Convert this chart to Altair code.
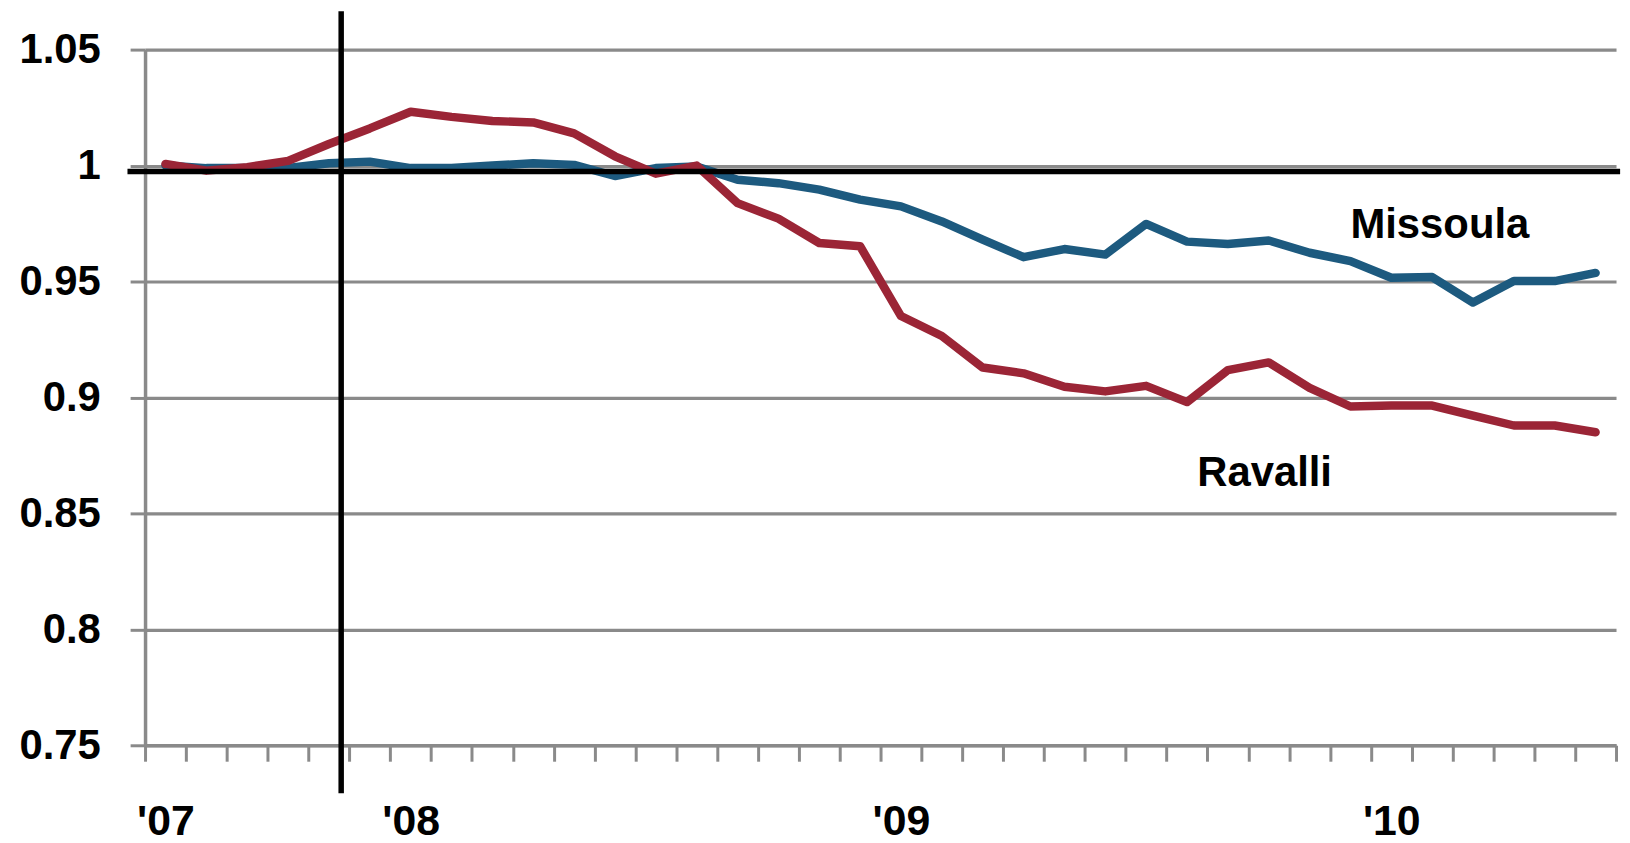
import altair as alt
import pandas as pd

# Monthly index values, Jul 2007 .. Jun 2010 (36 months)
months = pd.date_range("2007-07-01", periods=36, freq="MS").strftime("%Y-%m").tolist()
missoula = [1.0, 0.9989, 0.9989, 0.999, 1.001, 1.0017, 0.9989, 0.999, 1.0, 1.001,
            1.0003, 0.9955, 0.9989, 0.9996, 0.9939, 0.9924, 0.9896, 0.9853, 0.9824, 0.9759,
            0.9681, 0.9605, 0.964, 0.9616, 0.9748, 0.9672, 0.9662, 0.9677, 0.9624, 0.9588,
            0.9516, 0.9519, 0.9409, 0.9502, 0.9502, 0.9537]
ravalli = [1.0007, 0.9978, 0.9993, 1.002, 1.0093, 1.016, 1.0232, 1.021, 1.0192, 1.0186,
           1.0139, 1.004, 0.9965, 1.0, 0.9838, 0.9771, 0.9666, 0.9652, 0.9351, 0.9265,
           0.9129, 0.9104, 0.9046, 0.9026, 0.905, 0.898, 0.9118, 0.9151, 0.9041, 0.8961,
           0.8965, 0.8965, 0.8922, 0.8879, 0.8879, 0.885]

y_ticks = [0.75, 0.8, 0.85, 0.9, 0.95, 1.0, 1.05]
x_label_text = ["'07", "'08", "'09", "'10"]
x_label_month = [0, 6, 18, 30]          # month index where each year label sits

series_names = ["Missoula", "Ravalli"]
series_colors = ["#1d5a7f", "#9b2536"]
label_x = [29.5, 25.75]
label_y = [0.9686, 0.8617]

# annotation lines
recession_x = [4.8]
recession_y = [0.7293, 1.0665]
base_y = [0.9974]
base_x = [-0.43, 36.1]

GRAY = "#8a8a8a"
FONT = "Liberation Sans"

df = pd.DataFrame({
    "month": months * 2,
    "pos": [i + 0.5 for i in range(36)] * 2,
    "value": missoula + ravalli,
    "series": ["Missoula"] * 36 + ["Ravalli"] * 36,
})

expr = " : ".join(
    f'datum.value == {m} ? "{t}"' for m, t in zip(x_label_month, x_label_text)
) + ' : ""'

xscale = alt.Scale(domain=[0, 36], nice=False, zero=False)
yscale = alt.Scale(domain=[0.75, 1.05], nice=False, zero=False)

xaxis = alt.Axis(values=list(range(37)), labelExpr=expr, labelOffset=20.5,
                 tickSize=16, tickWidth=3, tickColor=GRAY, domainColor=GRAY,
                 domainWidth=3.5, labelFont=FONT, labelFontSize=43,
                 labelFontWeight="bold", labelColor="black", labelPadding=40,
                 grid=False, title=None, labelOverlap=False, labelFlush=False,
                 labelBound=False)
yaxis = alt.Axis(values=y_ticks, labelExpr="format(datum.value, '.2~f')",
                 tickSize=15, tickWidth=3, tickColor=GRAY, domainColor=GRAY,
                 domainWidth=3.5, labelFont=FONT, labelFontSize=42,
                 labelFontWeight="bold", labelColor="black", labelPadding=30,
                 grid=True, gridColor=GRAY, gridWidth=3.2, title=None,
                 labelOverlap=False, labelFlush=False)

base = alt.Chart(df)

lines = []
for name, col in zip(series_names, series_colors):
    lines.append(
        base.transform_filter(alt.datum.series == name)
        .mark_line(strokeWidth=8.5, color=col, strokeJoin="round", strokeCap="round")
        .encode(x=alt.X("pos:Q", scale=xscale, axis=xaxis),
                y=alt.Y("value:Q", scale=yscale, axis=yaxis))
    )

hline = alt.Chart(pd.DataFrame({"x": [base_x[0]], "x2": [base_x[1]], "y": base_y})).mark_rule(
    color="black", strokeWidth=5.5
).encode(x=alt.X("x:Q", scale=xscale), x2="x2:Q", y=alt.Y("y:Q", scale=yscale))

vline = alt.Chart(pd.DataFrame({"x": recession_x, "y": [recession_y[0]], "y2": [recession_y[1]]})).mark_rule(
    color="black", strokeWidth=5.5
).encode(x=alt.X("x:Q", scale=xscale), y=alt.Y("y:Q", scale=yscale), y2="y2:Q")

labels = alt.Chart(pd.DataFrame({"name": series_names, "x": label_x, "y": label_y})).mark_text(
    align="left", baseline="alphabetic", font=FONT, fontSize=42, fontWeight="bold", color="black"
).encode(x=alt.X("x:Q", scale=xscale), y=alt.Y("y:Q", scale=yscale), text="name:N")

chart = alt.layer(*lines, hline, vline, labels).properties(
    width=1478, height=699,
    autosize=alt.AutoSizeParams(type="none"),
    padding={"left": 137.7, "top": 39.8, "right": 6, "bottom": 100},
).configure_view(stroke=None)

chart.save("out.html", embed_options={"renderer": "svg", "actions": False})
